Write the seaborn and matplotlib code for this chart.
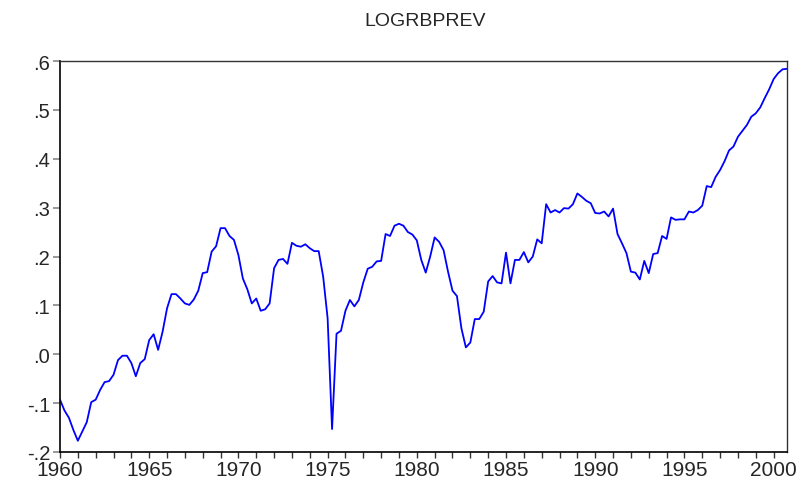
import numpy as np
import pandas as pd
import matplotlib
matplotlib.use('Agg')
import matplotlib.pyplot as plt
import seaborn as sns

# quarterly series, 1960Q1 - 2000Q4
logrbprev = [
    -0.093, -0.115, -0.130, -0.155, -0.177, -0.158, -0.139, -0.098,
    -0.093, -0.073, -0.057, -0.055, -0.042, -0.012, -0.003, -0.003,
    -0.018, -0.045, -0.018, -0.010, 0.029, 0.041, 0.009, 0.046,
    0.094, 0.123, 0.123, 0.114,
    0.104, 0.101, 0.112, 0.130, 0.166, 0.168, 0.210, 0.221,
    0.258, 0.258, 0.242, 0.234, 0.203, 0.155, 0.133, 0.104,
    0.114, 0.089, 0.092, 0.104, 0.176, 0.193, 0.195, 0.185,
    0.228, 0.222, 0.220, 0.225,
    0.217, 0.211, 0.211, 0.159, 0.074, -0.153, 0.042, 0.048,
    0.089, 0.111, 0.098, 0.111, 0.147, 0.175, 0.179, 0.190,
    0.191, 0.246, 0.242, 0.263, 0.267, 0.263, 0.250, 0.245, 0.233,
    0.193, 0.167, 0.200, 0.239, 0.230, 0.213, 0.169, 0.130,
    0.119, 0.053, 0.014, 0.024, 0.072, 0.072, 0.087, 0.149,
    0.160, 0.147, 0.145, 0.208, 0.145, 0.193, 0.193, 0.209,
    0.188, 0.200, 0.235, 0.227,
    0.307, 0.290, 0.295, 0.290, 0.299, 0.298, 0.307, 0.329,
    0.322, 0.314, 0.309, 0.289, 0.288, 0.292, 0.282, 0.298,
    0.246, 0.227, 0.207, 0.169, 0.167, 0.153, 0.191, 0.166,
    0.205, 0.207, 0.242, 0.236,
    0.280, 0.275, 0.276, 0.276, 0.292, 0.290, 0.295, 0.304,
    0.344, 0.342, 0.363, 0.377, 0.395, 0.417, 0.425, 0.445,
    0.457, 0.469, 0.486, 0.493, 0.505, 0.524, 0.542, 0.563,
    0.575, 0.583, 0.584,
]
quarters = pd.period_range('1960Q1', '2000Q4', freq='Q')
x_ticks = [1960, 1965, 1970, 1975, 1980, 1985, 1990, 1995, 2000]
y_ticks = [-0.2, -0.1, 0.0, 0.1, 0.2, 0.3, 0.4, 0.5, 0.6]
y_labels = ['-.2', '-.1', '.0', '.1', '.2', '.3', '.4', '.5', '.6']

df = pd.DataFrame({
    'date': quarters.year + (quarters.quarter - 1) / 4,
    'value': logrbprev,
})

sns.set_style("ticks")
plt.rcParams['font.family'] = ['Liberation Sans', 'DejaVu Sans']

fig = plt.figure(figsize=(8.02, 4.85), dpi=100)
ax = fig.add_axes([60 / 802, 1 - 453 / 485, 727 / 802, 391 / 485])

sns.lineplot(data=df, x='date', y='value', color='#0000ff', linewidth=1.3, ax=ax)

ax.set_xlim(1960, 2000.75)
ax.set_ylim(-0.2, 0.6)
ax.set_xticks(x_ticks)
ax.set_xticks(range(1960, 2001), minor=True)
ax.set_yticks(y_ticks)
ax.set_yticklabels(y_labels)
ax.tick_params(axis='x', which='both', direction='out', length=4, width=1,
               color='#333333', labelsize=15, pad=2)
ax.tick_params(axis='y', direction='out', length=5, width=1.2,
               color='#888888', labelsize=14.5, pad=2)
ax.set_xlabel('')
ax.set_ylabel('')
for side in ['top', 'right']:
    ax.spines[side].set_linewidth(1.0)
    ax.spines[side].set_color('#333333')
for side in ['left', 'bottom']:
    ax.spines[side].set_linewidth(1.2)
    ax.spines[side].set_color('black')

fig.text(425 / 802, 1 - 22 / 485, 'LOGRBPREV', ha='center', va='center', fontsize=14)

fig.savefig('out.png', dpi=100)
plt.close()
